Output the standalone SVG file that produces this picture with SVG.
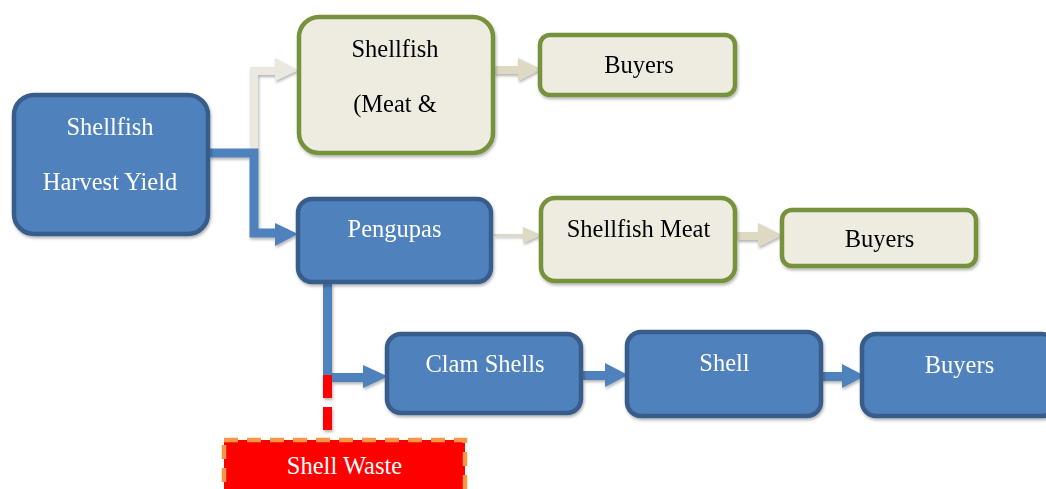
<svg xmlns="http://www.w3.org/2000/svg" width="1046" height="489" viewBox="0 0 1046 489">
<defs>
<style>
.blue{fill:#4f81bd;stroke:#385d8a;stroke-width:4.5}
.green{fill:#eeece1;stroke:#76923c;stroke-width:4.5}
.waste{fill:#ff0000;stroke:#f79646;stroke-width:4.5;stroke-dasharray:14 9}
text{font-family:"Liberation Serif","Times New Roman",serif;font-size:24.5px;text-anchor:middle}
.wt{fill:#ffffff}
.bt{fill:#000000}
.lb{fill:none;stroke:#4f81bd;stroke-width:9}
.lg{fill:none;stroke:#ddd9c3;stroke-width:8}
.lg2{fill:none;stroke:#ebe9df;stroke-width:8}
.ah-b{fill:#4f81bd}
.ah-g{fill:#ddd9c3}
</style>
<filter id="sh" x="-10%" y="-10%" width="130%" height="140%">
<feDropShadow dx="1" dy="2" stdDeviation="1.5" flood-color="#000" flood-opacity="0.3"/>
</filter>
</defs>
<rect width="1046" height="489" fill="#ffffff"/>
<g id="connectors" filter="url(#sh)">
<polyline class="lg2" points="209,153 254,153 254,71 278,71"/>
<polygon fill="#ebe9df" points="275,58 298,70 275,81"/>
<polyline class="lb" points="209,153 254,153 254,233 278,233"/>
<polygon class="ah-b" points="275,223 298,234 275,246"/>
<line class="lg" x1="494" y1="70" x2="520" y2="70"/>
<polygon class="ah-g" points="518,58 541,69 518,81"/>
<line x1="494" y1="235" x2="525" y2="235" stroke="#ddd9c3" stroke-width="2"/>
<polygon class="ah-g" points="523,227 541,235 523,243"/>
<line class="lg" x1="737" y1="236" x2="760" y2="236"/>
<polygon class="ah-g" points="758,223 782,235 758,247"/>
<polyline class="lb" points="327.5,283 327.5,377.5 366,377.5"/>
<polygon class="ah-b" points="363,365 388,376.5 363,388"/>
<line x1="327.5" y1="375" x2="327.5" y2="432" stroke="#ff0000" stroke-width="9" stroke-dasharray="23 9"/>
<line class="lb" x1="583" y1="375.5" x2="608" y2="375.5"/>
<polygon class="ah-b" points="605,363 628,375 605,387"/>
<line class="lb" x1="822" y1="376.5" x2="845" y2="376.5"/>
<polygon class="ah-b" points="842,364 865,376 842,388"/>
</g>
<g id="node-harvest" filter="url(#sh)">
<rect class="blue" x="14" y="95" width="194" height="139" rx="20"/>
<text class="wt" x="110" y="135">Shellfish</text>
<text class="wt" x="110" y="190">Harvest Yield</text>
</g>
<g id="node-meat-and" filter="url(#sh)">
<rect class="green" x="299" y="17" width="194" height="136" rx="20"/>
<text class="bt" x="395" y="57">Shellfish</text>
<text class="bt" x="395" y="112">(Meat &amp;</text>
</g>
<g id="node-buyers-1" filter="url(#sh)">
<rect class="green" x="540" y="35" width="195" height="60" rx="10"/>
<text class="bt" x="639" y="73">Buyers</text>
</g>
<g id="node-pengupas" filter="url(#sh)">
<rect class="blue" x="298" y="199" width="193" height="83" rx="14"/>
<text class="wt" x="394.5" y="237">Pengupas</text>
</g>
<g id="node-shellfish-meat" filter="url(#sh)">
<rect class="green" x="541" y="198" width="194" height="83" rx="14"/>
<text class="bt" x="638.5" y="237">Shellfish Meat</text>
</g>
<g id="node-buyers-2" filter="url(#sh)">
<rect class="green" x="782" y="210" width="194" height="56" rx="10"/>
<text class="bt" x="879.5" y="247">Buyers</text>
</g>
<g id="node-clam-shells" filter="url(#sh)">
<rect class="blue" x="387" y="334" width="194" height="79" rx="14"/>
<text class="wt" x="485" y="372">Clam Shells</text>
</g>
<g id="node-shell" filter="url(#sh)">
<rect class="blue" x="627" y="332" width="194" height="84" rx="14"/>
<text class="wt" x="724.5" y="371">Shell</text>
</g>
<g id="node-buyers-3" filter="url(#sh)">
<rect class="blue" x="862" y="334" width="194" height="82" rx="14"/>
<text class="wt" x="959.5" y="373">Buyers</text>
</g>
<g id="node-shell-waste">
<rect class="waste" x="224" y="440" width="241" height="56"/>
<text class="wt" x="344.5" y="474">Shell Waste</text>
</g>
</svg>
